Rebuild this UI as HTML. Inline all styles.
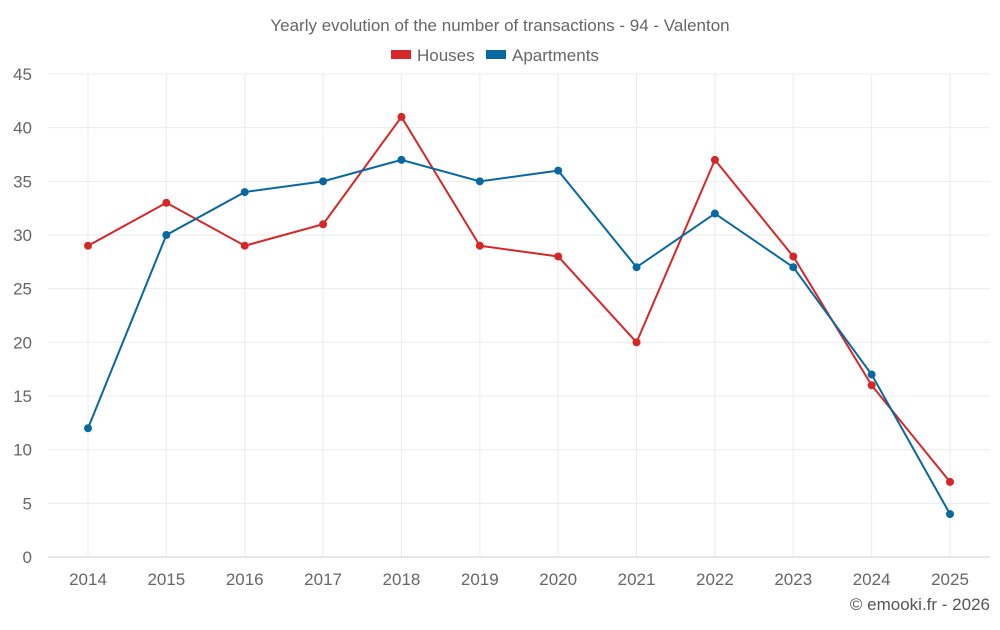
<!DOCTYPE html>
<html><head><meta charset="utf-8"><style>
body{margin:0;background:#fff;font-family:"Liberation Sans",sans-serif;}
svg text{font-family:"Liberation Sans",sans-serif;}
</style></head><body>
<svg id="chart" width="1000" height="625" xmlns="http://www.w3.org/2000/svg">
<text x="500" y="31" text-anchor="middle" font-size="17" fill="#666">Yearly evolution of the number of transactions - 94 - Valenton</text>
<g>
<g><rect x="391" y="50" width="20" height="9" fill="#d62728"/><text x="417" y="61" font-size="17" fill="#666">Houses</text></g>
<g><rect x="486" y="50" width="20" height="9" fill="#0868a0"/><text x="512" y="61" font-size="17" fill="#666">Apartments</text></g>
</g>
<g id="grid"></g><g id="axes"></g><g id="series"></g>
<text x="990" y="610" text-anchor="end" font-size="17" fill="#555">© emooki.fr - 2026</text>
</svg>
<script>
const years=[2014,2015,2016,2017,2018,2019,2020,2021,2022,2023,2024,2025];
const houses=[29,33,29,31,41,29,28,20,37,28,16,7];
const apartments=[12,30,34,35,37,35,36,27,32,27,17,4];
const yTicks=[0,5,10,15,20,25,30,35,40,45];
const NS="http://www.w3.org/2000/svg";
const L=48,R=990,T=74,B=557;
const x=i=>88+i*(950-88)/(years.length-1);
const y=v=>B-(v/45)*(B-T);
function mk(tag,at,parent){const e=document.createElementNS(NS,tag);for(const k in at)e.setAttribute(k,at[k]);parent.appendChild(e);return e;}
const grid=document.getElementById('grid'),axes=document.getElementById('axes'),ser=document.getElementById('series');
yTicks.forEach(v=>{
 const l=mk('line',{x1:L,x2:R,y1:y(v),y2:y(v),stroke:v===0?'#ccc':'#ebebeb'},grid);
 
 
 const t=mk('text',{x:32,y:y(v)+6,'text-anchor':'end','font-size':17,fill:'#666'},axes);
 t.textContent=v;
 
 
});
years.forEach((yr,i)=>{
 const l=mk('line',{x1:x(i),x2:x(i),y1:T,y2:B,stroke:'#ebebeb'},grid);
 
 
 const t=mk('text',{x:x(i),y:585,'text-anchor':'middle','font-size':17,fill:'#666'},axes);
 t.textContent=yr;
 
 
});
[[houses,'#d62728','houses'],[apartments,'#0868a0','apartments']].forEach(([d,c,n])=>{
 const p=mk('polyline',{points:d.map((v,i)=>x(i)+','+y(v)).join(' '),fill:'none',stroke:c,'stroke-width':2},ser);
 
 
 d.forEach((v,i)=>{
  const ci=mk('circle',{cx:x(i),cy:y(v),r:4,fill:c},ser);
  
  
 });
});
</script>
</body></html>
